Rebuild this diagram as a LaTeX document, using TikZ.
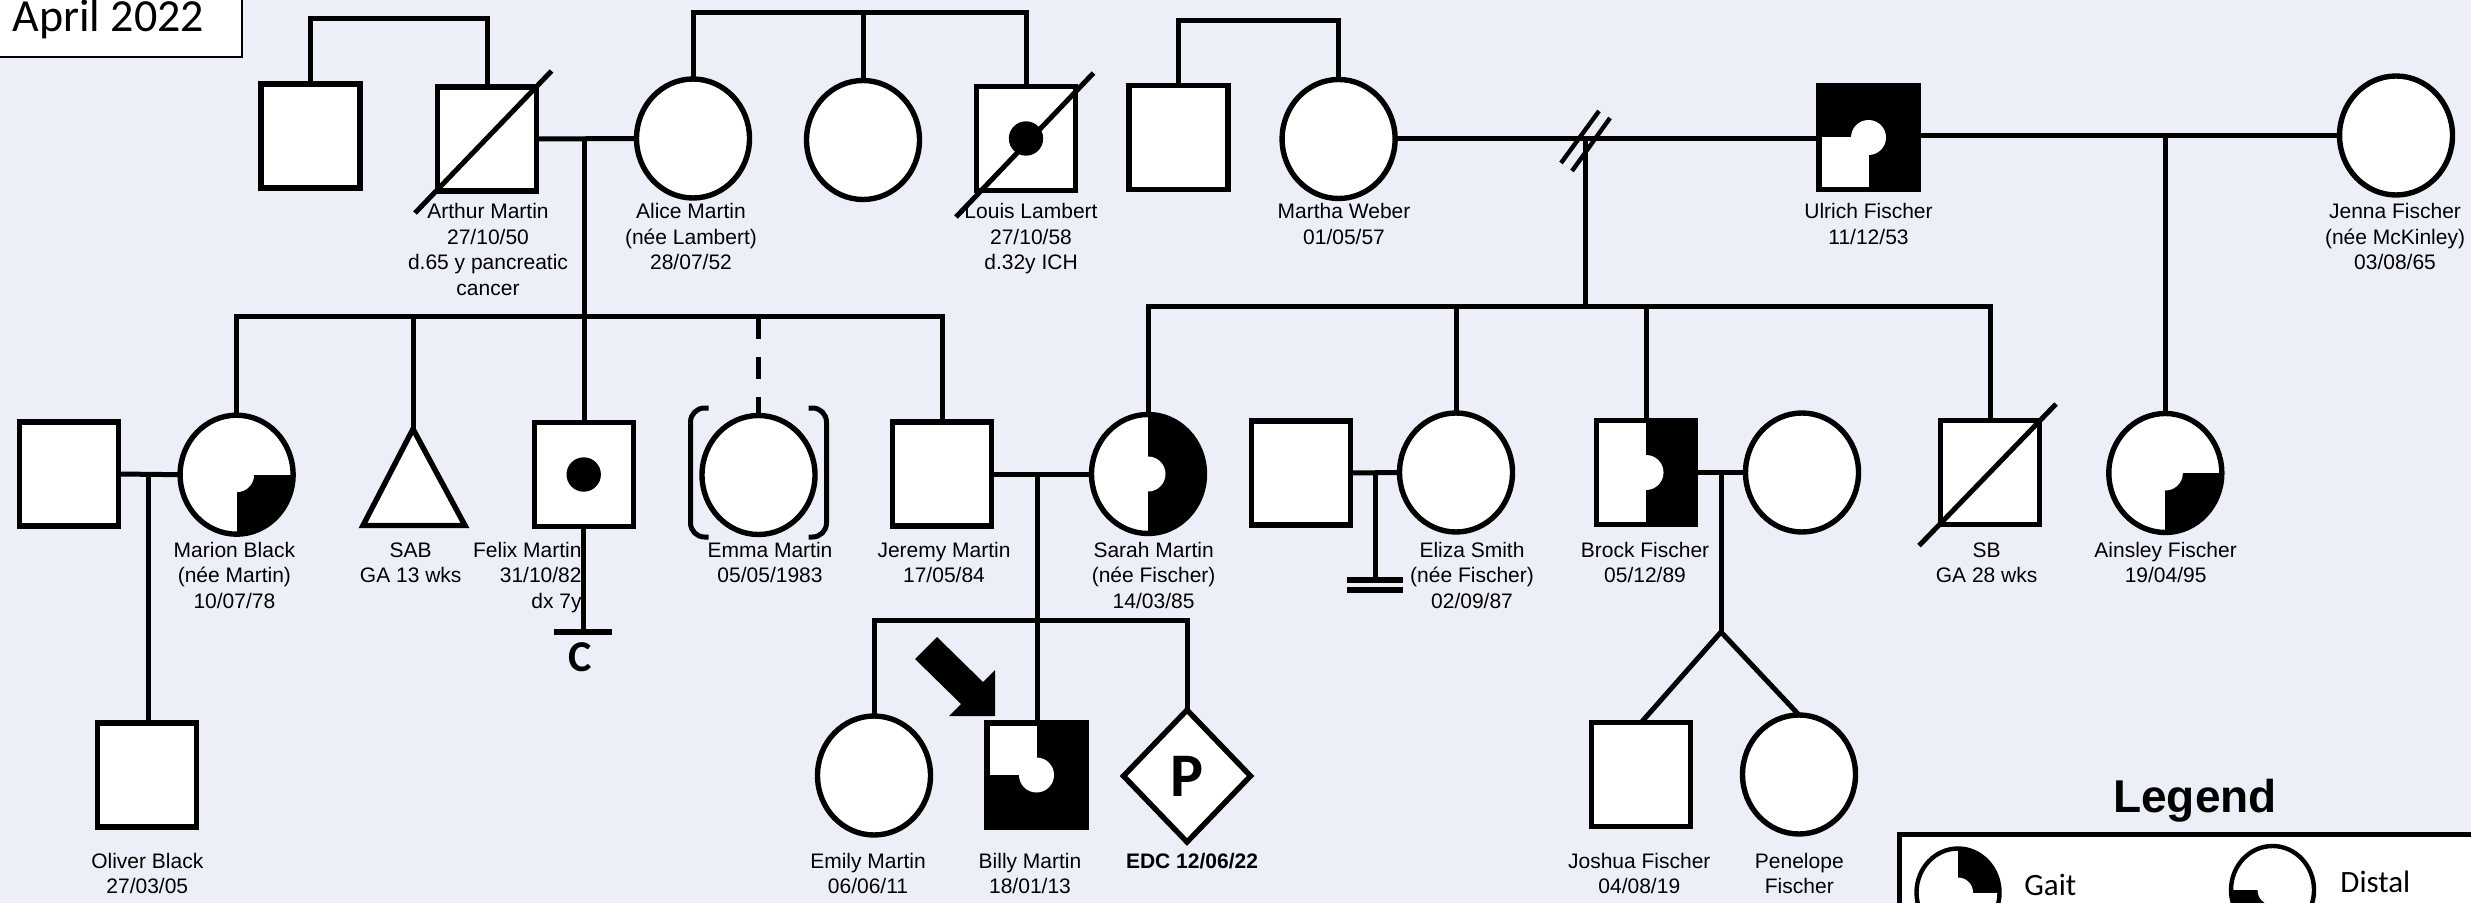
\documentclass[tikz,border=0pt]{standalone}
\usepackage{fontspec}
\setmainfont{Liberation Sans}
\newfontfamily\calib{Carlito}
\usetikzlibrary{shapes.geometric,calc}
\definecolor{bg}{RGB}{236,239,247}
\begin{document}
\begin{tikzpicture}[x=0.5pt,y=-0.5pt,
  ln/.style={line width=2.5pt},
  sym/.style={draw, line width=2.7pt, fill=white, inner sep=0pt, outer sep=0pt},
  sq/.style={sym, rectangle, minimum width=49.5pt, minimum height=52pt},
  ci/.style={sym, ellipse, minimum width=56.5pt, minimum height=59.5pt},
  lab/.style={font=\fontsize{10.5pt}{12.75pt}\selectfont, align=center, inner sep=0pt, anchor=north},
  pheno/.style n args={5}{path picture={
     \fill[#1] (path picture bounding box.center) rectangle (path picture bounding box.north west);
     \fill[#2] (path picture bounding box.center) rectangle (path picture bounding box.north east);
     \fill[#3] (path picture bounding box.center) rectangle (path picture bounding box.south west);
     \fill[#4] (path picture bounding box.center) rectangle (path picture bounding box.south east);
     \fill[white] (path picture bounding box.center) circle[radius=#5];}},
  carrierdot/.style={path picture={\fill[black] (path picture bounding box.center) circle[radius=8.6pt];}},
]
\clip (0,0) rectangle (2471,903);
\fill[bg] (0,0) rectangle (2471,903);

% date box
\draw[line width=0.9pt, fill=white] (-10,-10) rectangle (242,57);
\node[font=\calib\fontsize{23pt}{23pt}\selectfont, anchor=base west, inner sep=0pt] (date) at (12,32) {April 2022};

% ---------- labels ----------
\node[lab] (lArthur) at (488,200.5) {\strut Arthur Martin\\27/10/50\\d.65 y pancreatic\\cancer};
\node[lab] (lAlice) at (691,200.5) {\strut Alice Martin\\(née Lambert)\\28/07/52};
\node[lab] (lLouis) at (1031,200.5) {\strut Louis Lambert\\27/10/58\\d.32y ICH};
\node[lab] (lMartha) at (1344,200.5) {\strut Martha Weber\\01/05/57};
\node[lab] (lUlrich) at (1868.5,200.5) {\strut Ulrich Fischer\\11/12/53};
\node[lab] (lJenna) at (2395,200.5) {\strut Jenna Fischer\\(née McKinley)\\03/08/65};

\node[lab] (lMarion) at (234.4,538.9) {\strut Marion Black\\(née Martin)\\10/07/78};
\node[lab] (lSab) at (410.7,538.9) {\strut SAB\\GA 13 wks};
\node[lab, anchor=north east, align=right] (lFelix) at (582,538.9) {\strut Felix Martin\\31/10/82\\dx 7y};
\node[lab] (lEmma) at (770,538.9) {\strut Emma Martin\\05/05/1983};
\node[lab] (lJeremy) at (944,538.9) {\strut Jeremy Martin\\17/05/84};
\node[lab] (lSarah) at (1153.6,538.9) {\strut Sarah Martin\\(née Fischer)\\14/03/85};
\node[lab] (lEliza) at (1472,538.9) {\strut Eliza Smith\\(née Fischer)\\02/09/87};
\node[lab] (lBrock) at (1645,538.9) {\strut Brock Fischer\\05/12/89};
\node[lab] (lSb) at (1986.6,538.9) {\strut SB\\GA 28 wks};
\node[lab] (lAinsley) at (2165.6,538.9) {\strut Ainsley Fischer\\19/04/95};

\node[lab] (lOliver) at (147.3,850.2) {\strut Oliver Black\\27/03/05};
\node[lab] (lEmily) at (868,850.2) {\strut Emily Martin\\06/06/11};
\node[lab] (lBilly) at (1030,850.2) {\strut Billy Martin\\18/01/13};
\node[lab] (lEdc) at (1192,850.2) {\strut\textbf{EDC 12/06/22}};
\node[lab] (lJoshua) at (1639.3,850.2) {\strut Joshua Fischer\\04/08/19};
\node[lab] (lPenelope) at (1799.3,850.2) {\strut Penelope\\Fischer};

% ---------- individuals ----------
% generation I
\node[sq] (sibA) at (310.5,136) {};
\node[sq] (arthur) at (487,139) {};
\node[ci] (alice) at (693,138.5) {};
\node[ci] (aliceSis) at (863,140) {};
\node[sq, carrierdot] (louis) at (1026,138.5) {};
\node[sq] (marthaBro) at (1178.5,137.5) {};
\node[ci] (martha) at (1338.6,139) {};
\node[sq, pheno={black}{black}{white}{black}{8.75pt}] (ulrich) at (1868.5,137.5) {};
\node[ci] (jenna) at (2396,135.5) {};
% generation II
\node[sq] (marionH) at (69,474) {};
\node[ci, pheno={white}{white}{white}{black}{8.75pt}] (marion) at (236.6,474.7) {};
\coordinate (sab) at (413,429);
\node[sq, carrierdot] (felix) at (583.7,474.5) {};
\node[ci] (emma) at (758.5,475) {};
\node[sq] (jeremy) at (942,474) {};
\node[ci, pheno={white}{black}{white}{black}{8.75pt}] (sarah) at (1148,474) {};
\node[sq] (elizaH) at (1301,473) {};
\node[ci] (eliza) at (1456,472.5) {};
\node[sq, pheno={white}{black}{white}{black}{8.75pt}] (brock) at (1646,472.5) {};
\node[ci] (brockW) at (1802,472.5) {};
\node[sq] (sb) at (1990,472.7) {};
\node[ci, pheno={white}{white}{white}{black}{8.75pt}] (ainsley) at (2165.3,473) {};
% generation III
\node[sq] (oliver) at (147,775) {};
\node[ci] (emily) at (874,775.5) {};
\node[sq, pheno={white}{black}{black}{black}{8.75pt}] (billy) at (1036.5,775) {};
\node[sym, diamond, minimum width=63.5pt, minimum height=66pt,
      font=\calib\bfseries\fontsize{31pt}{31pt}\selectfont] (preg) at (1187,776) {P};
\node[sq] (joshua) at (1641,774.7) {};
\node[ci] (penelope) at (1799,774.5) {};

% ---------- connectors ----------
% sibships of generation I
\coordinate (barA) at (400,19);
\draw[ln] (sibA.north) |- (barA) -| (arthur.north);
\coordinate (barB) at (863,13);
\draw[ln] (alice.north) |- (barB) -| (louis.north);
\draw[ln] (aliceSis.north) -- (aliceSis.north |- barB);
\coordinate (barC) at (1260,21);
\draw[ln] (marthaBro.north) |- (barC) -| (martha.north);

% Arthur + Alice and their children
\draw[ln] (arthur.east) -- (alice.west);
\coordinate (mAA) at (584,138.5);
\coordinate (barD) at (584,317);
\draw[ln] (mAA) -- (mAA |- felix.north);
\draw[ln] (marion.north) |- (barD) -| (jeremy.north);
\draw[ln] (sab) -- (sab |- barD);
\draw[ln, dash pattern=on 11pt off 9pt] (emma.north |- barD) -- (emma.north);

% Marion's family
\draw[ln] (marionH.east) -- (marion.west);
\coordinate (mMB) at (148.5,474);
\draw[ln] (mMB) -- (mMB |- oliver.north);

% Felix: no children (reason C)
\coordinate (felixC) at (583,632);
\draw[ln] (felix.south) -- (felix.south |- felixC);
\draw[line width=2.85pt] ($(felixC)+(-29,0)$) -- ($(felixC)+(29,0)$);
\node[font=\calib\bfseries\fontsize{22pt}{22pt}\selectfont, inner sep=0pt] (cLab) at (580,657.5) {C};

% Martha + Ulrich (separated) and their children
\draw[ln] (martha.east) -- (martha.east -| ulrich.west);
\draw[line width=2.2pt] (1561,163) -- (1599,111);
\draw[line width=2.2pt] (1572,171) -- (1610,118);
\coordinate (mMU) at (1585,138);
\coordinate (barF) at (1585,306.5);
\draw[ln] (mMU) -- (barF);
\draw[ln] (sarah.north) |- (barF) -| (sb.north);
\draw[ln] (eliza.north) -- (eliza.north |- barF);
\draw[ln] (brock.north) -- (brock.north |- barF);

% Ulrich + Jenna
\draw[ln] (ulrich.east |- jenna.west) -- (jenna.west);
\coordinate (mUJ) at (2165,135.5);
\draw[ln] (mUJ) -- (mUJ |- ainsley.north);

% Jeremy + Sarah and their children
\draw[ln] (jeremy.east) -- (sarah.west);
\coordinate (mJS) at (1037,474);
\draw[ln] (mJS) -- (mJS |- billy.north);
\coordinate (barE) at (1037,620);
\draw[ln] (emily.north) |- (barE) -| (preg.north);

% Eliza: infertility
\draw[ln] (elizaH.east) -- (eliza.west);
\coordinate (mEE) at (1375,473);
\coordinate (noKids) at (1375,580);
\draw[ln] (mEE) -- (noKids);
\draw[line width=3pt] ($(noKids)+(-28,0)$) -- ($(noKids)+(28,0)$);
\draw[line width=3pt] ($(noKids)+(-28,10)$) -- ($(noKids)+(28,10)$);

% Brock: twins
\draw[ln] (brock.east) -- (brockW.west);
\coordinate (mBW) at (1721,472.5);
\coordinate (twin) at (1721,632);
\draw[ln] (mBW) -- (twin);
\draw[ln] (joshua.north) -- (twin) -- (penelope.north);

% SAB triangle
\draw[line width=2.7pt, fill=white] (sab) -- (363,525.5) -- (465,525.5) -- cycle;

% Emma: adopted brackets
\draw[ln, rounded corners=7pt] ($(emma)+(-50,-67)$) -- ($(emma)+(-68,-67)$) -- ($(emma)+(-68,62)$) -- ($(emma)+(-50,62)$);
\draw[ln, rounded corners=7pt] ($(emma)+(50,-67)$) -- ($(emma)+(68,-67)$) -- ($(emma)+(68,62)$) -- ($(emma)+(50,62)$);

% deceased
\draw[ln] ($(arthur)+(-72,74)$) -- ($(arthur)+(64.5,-68)$);
\draw[ln] ($(louis)+(-70,78.5)$) -- ($(louis)+(67.5,-65.5)$);
\draw[ln] ($(sb)+(-71,73)$) -- ($(sb)+(66,-68.7)$);

% proband arrow
\fill (937,637) -- (983,682) -- (995,670) -- (995,716) -- (949,716) -- (961,704) -- (915,659) -- cycle;

% ---------- legend ----------
\node[font=\bfseries\fontsize{23pt}{23pt}\selectfont, anchor=base, inner sep=0pt] (legendTitle) at (2195,812.7) {Legend};
\draw[line width=2.5pt, fill=white] (1899.5,834.3) rectangle (2500,930);
\node[sym, ellipse, line width=2.2pt, minimum width=41.5pt, minimum height=44pt,
      pheno={white}{black}{white}{white}{7.5pt}] (gaitSym) at (1958,892.5) {};
\node[font=\calib\fontsize{15.5pt}{15.5pt}\selectfont, anchor=base west, inner sep=0pt] (gaitLab) at (2024,895) {Gait};
\node[sym, ellipse, line width=2.2pt, minimum width=41.5pt, minimum height=44pt,
      pheno={white}{white}{black}{white}{7.5pt}] (distalSym) at (2272.5,890) {};
\node[font=\calib\fontsize{15.5pt}{15.5pt}\selectfont, anchor=base west, inner sep=0pt] (distalLab) at (2340,892.7) {Distal};
\end{tikzpicture}
\end{document}
